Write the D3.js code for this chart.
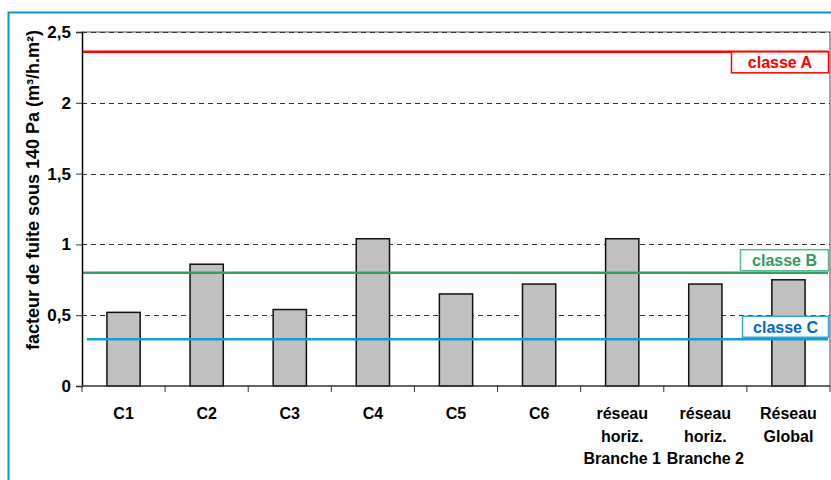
<!DOCTYPE html>
<html>
<head>
<meta charset="utf-8">
<script src="https://cdn.jsdelivr.net/npm/d3@7"></script>
<style>
  html, body { margin: 0; padding: 0; background: #fff; }
  svg { display: block; font-family: "Liberation Sans", Arial, sans-serif; }
</style>
</head>
<body>
<svg id="chart" width="831" height="480"></svg>
<script>
// Measured leakage factor per duct section
const categories = [
  ["C1"], ["C2"], ["C3"], ["C4"], ["C5"], ["C6"],
  ["réseau", "horiz.", "Branche 1"],
  ["réseau", "horiz.", "Branche 2"],
  ["Réseau", "Global"]
];
const values = [0.52, 0.86, 0.54, 1.04, 0.65, 0.72, 1.04, 0.72, 0.75];

// Airtightness class thresholds
const classNames = ["classe A", "classe B", "classe C"];
const classValues = [2.36, 0.80, 0.33];

const yTicks = [0, 0.5, 1, 1.5, 2, 2.5];
const yTitle = "facteur de fuite sous 140 Pa (m³/h.m²)";

const FONT = "'Liberation Sans', Arial, sans-serif";
const FS = 16;

const svg = d3.select("#chart");
const plotL = 82, plotR = 830, plotT = 32, plotB = 386;

const x = d3.scaleBand()
  .domain(d3.range(categories.length))
  .range([plotL, plotR])
  .paddingInner(0.6)
  .paddingOuter(0.3);

const y = d3.scaleLinear().domain([0, 2.5]).range([plotB, plotT]);

// outer frame
svg.append("rect")
  .attr("x", 8.5).attr("y", 12.5)
  .attr("width", 840).attr("height", 480)
  .attr("fill", "none")
  .attr("stroke", "#0099cc")
  .attr("stroke-width", 2);

// plot area border (top and right)
svg.append("path")
  .attr("d", `M${plotL},${plotT}H${plotR}V${plotB}`)
  .attr("fill", "none")
  .attr("stroke", "#888")
  .attr("stroke-width", 1.5);

// dashed gridlines
svg.append("g")
  .selectAll("line")
  .data(yTicks.filter(d => d > 0))
  .join("line")
  .attr("x1", plotL).attr("x2", plotR)
  .attr("y1", d => Math.round(y(d)) + 0.5)
  .attr("y2", d => Math.round(y(d)) + 0.5)
  .attr("stroke", "#333")
  .attr("stroke-width", 1)
  .attr("stroke-dasharray", "5,4");

// bars
svg.append("g")
  .selectAll("rect")
  .data(values)
  .join("rect")
  .attr("x", (d, i) => x(i))
  .attr("y", d => y(d))
  .attr("width", x.bandwidth())
  .attr("height", d => plotB - y(d))
  .attr("fill", "#c0c0c0")
  .attr("stroke", "#111")
  .attr("stroke-width", 1.5);

// class threshold lines and their labels
const classColors = ["#ff0000", "#3a9a6c", "#1a9ad0"];
const classText = ["#ff0000", "#339966", "#0066cc"];
const classBorder = ["#ff0000", "#5cb88a", "#33a6d6"];
const boxW = [97, 88, 86];
const boxH = 21;
const lineStart = [83, 82, 87];

classValues.forEach((v, i) => {
  const yy = y(v);
  svg.append("line")
    .attr("x1", lineStart[i]).attr("x2", plotR - 2)
    .attr("y1", yy).attr("y2", yy)
    .attr("stroke", classColors[i])
    .attr("stroke-width", 2.5);
  // label box sits below the top line, above the others
  const by = i === 0 ? yy : yy - boxH - 2;
  const bx = plotR - 1.5 - boxW[i];
  svg.append("rect")
    .attr("x", bx).attr("y", by)
    .attr("width", boxW[i]).attr("height", boxH)
    .attr("fill", "#fff")
    .attr("stroke", classBorder[i])
    .attr("stroke-width", 1.5);
  svg.append("text")
    .attr("x", bx + boxW[i] / 2)
    .attr("y", by + boxH / 2 + 6)
    .attr("text-anchor", "middle")
    .attr("font-family", FONT)
    .attr("font-size", FS)
    .attr("font-weight", "bold")
    .attr("fill", classText[i])
    .text(classNames[i]);
});

// y axis
const yAxis = svg.append("g")
  .attr("transform", `translate(${plotL},0)`)
  .call(d3.axisLeft(y).tickValues(yTicks).tickSize(6).tickPadding(5)
    .tickFormat(d => d3.format("~g")(d).replace(".", ",")));
yAxis.select(".domain").attr("stroke", "#000").attr("stroke-width", 1.5);
yAxis.selectAll(".tick line").attr("stroke", "#333");
yAxis.selectAll(".tick text")
  .attr("font-size", 17).attr("font-weight", "bold").attr("fill", "#000")
  .attr("font-family", FONT);

// x axis line and ticks at category boundaries
svg.append("line")
  .attr("x1", plotL).attr("x2", plotR)
  .attr("y1", plotB).attr("y2", plotB)
  .attr("stroke", "#333").attr("stroke-width", 1.5);
const bounds = d3.range(categories.length + 1).map(i =>
  i < categories.length ? x(i) + x.bandwidth() / 2 - x.step() / 2
                        : x(i - 1) + x.bandwidth() / 2 + x.step() / 2);
svg.append("g")
  .selectAll("line")
  .data(bounds)
  .join("line")
  .attr("x1", d => d).attr("x2", d => d)
  .attr("y1", plotB).attr("y2", plotB + 6)
  .attr("stroke", "#333").attr("stroke-width", 1);

// category labels
const lab = svg.append("g")
  .attr("font-family", FONT)
  .attr("font-size", FS).attr("font-weight", "bold")
  .attr("text-anchor", "middle").attr("fill", "#000");
categories.forEach((lines, i) => {
  const t = lab.append("text")
    .attr("x", x(i) + x.bandwidth() / 2)
    .attr("y", 419);
  lines.forEach((s, j) => {
    t.append("tspan")
      .attr("x", x(i) + x.bandwidth() / 2)
      .attr("dy", j === 0 ? 0 : 22.5)
      .text(s);
  });
});

// y axis title
svg.append("text")
  .attr("transform", "translate(39,190) rotate(-90)")
  .attr("text-anchor", "middle")
  .attr("font-family", FONT)
  .attr("font-size", 18).attr("font-weight", "bold")
  .text(yTitle);
</script>
</body>
</html>
